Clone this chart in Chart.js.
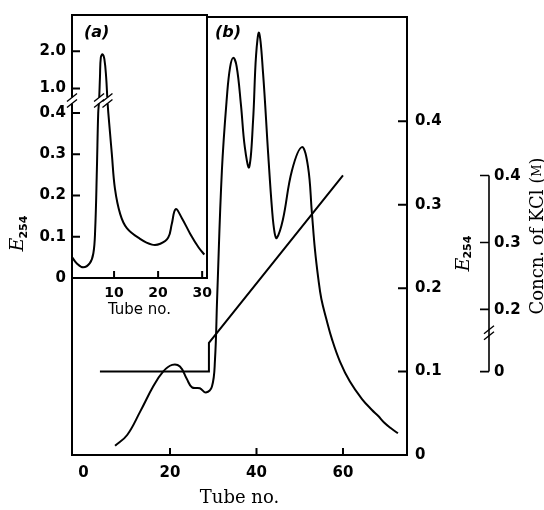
<!DOCTYPE html>
<html>
<head>
<meta charset="utf-8">
<style>
  html, body { margin: 0; padding: 0; background: #fff; }
  #wrap { position: relative; width: 544px; height: 510px; }
  #main, #inset { position: absolute; left: 0; top: 0; }
</style>
<script src="https://cdn.jsdelivr.net/npm/chart.js@4.4.1/dist/chart.umd.min.js"></script>
</head>
<body>
<div id="wrap">
  <canvas id="main" width="544" height="510"></canvas>
  <canvas id="inset" width="220" height="330"></canvas>
</div>
<script>
// (b) elution profile, E254 against tube no.
var tubeB = [7.3, 10.1, 13.1, 16.1, 18.4, 20.5, 22.3, 23.9, 25.1, 26.9, 28.3, 29.7, 30.4, 30.9, 32.0, 33.2,
  33.9, 34.6, 35.4, 36.4, 37.3, 38.3, 39.2, 39.9, 40.6, 41.5, 42.7, 43.6, 44.2, 44.7, 46.1, 48.2,
  50.5, 51.9, 52.8, 53.5, 54.3, 55.0, 56.1, 57.5, 59.3, 61.6, 64.4, 66.7, 68.1, 69.5, 71.1, 72.7];
var e254B = [0.011, 0.024, 0.052, 0.082, 0.100, 0.108, 0.106, 0.091, 0.081, 0.080, 0.075, 0.082, 0.114, 0.188, 0.341, 0.432,
  0.465, 0.476, 0.466, 0.420, 0.369, 0.345, 0.400, 0.479, 0.506, 0.459, 0.361, 0.294, 0.266, 0.260, 0.282, 0.341,
  0.369, 0.346, 0.291, 0.247, 0.211, 0.187, 0.164, 0.138, 0.112, 0.088, 0.067, 0.054, 0.047, 0.039, 0.032, 0.026];

// KCl gradient (M)
var tubeKCl = [3.8, 29, 29, 60];
var kcl = [0, 0, 0.15, 0.4];

// (a) inset profile
var tubeA = [0.5, 1.5, 3, 4.5, 5.3, 5.7, 6.1, 6.4, 6.6, 6.8, 7.0, 7.4, 7.8, 8.2, 8.5, 8.7, 9.1, 9.5,
  10.2, 11.4, 12.9, 15.9, 18.6, 20.5, 22.3, 23.1, 24.0, 25.4, 27.3, 29.2, 30.5];
var e254A = [0.05, 0.036, 0.026, 0.036, 0.06, 0.114, 0.264, 0.40, 0.71, 1.31, 1.84, 1.92, 1.79, 1.31, 0.71, 0.40, 0.35, 0.30,
  0.217, 0.155, 0.121, 0.095, 0.081, 0.083, 0.098, 0.131, 0.167, 0.145, 0.107, 0.074, 0.057];

// tick labels
var xTicksB = [0, 20, 40, 60];
var eTicksB = [0, 0.1, 0.2, 0.3, 0.4];
var kclTicks = [0, 0.2, 0.3, 0.4];
var xTicksA = [10, 20, 30];
var eTicksA = [0, 0.1, 0.2, 0.3, 0.4, 1.0, 2.0];

var BOLD = 'bold 15px "DejaVu Sans"';
Chart.defaults.color = '#000';
Chart.defaults.font.family = '"DejaVu Sans"';

// broken axes: piecewise-linear value mapping on top of the linear scale
function brokenScale(id, warp, unwarp) {
  class S extends Chart.LinearScale {
    getPixelForValue(v) { return v == null ? NaN : super.getPixelForValue(warp(v)); }
    getValueForPixel(p) { return unwarp(super.getValueForPixel(p)); }
  }
  S.id = id;
  S.defaults = Chart.LinearScale.defaults;
  Chart.register(S);
}
// inset E254: 0-0.4 normal, 0.4-1.0 squeezed, 1.0-2.0 compressed
brokenScale('brokenE', function (v) {
  if (v <= 0.4) return v;
  if (v <= 1.0) return 0.4 + (v - 0.4) / 0.6 * 0.0595;
  return 0.4595 + (v - 1.0) * 0.0905;
}, function (w) {
  if (w <= 0.4) return w;
  if (w <= 0.4595) return 0.4 + (w - 0.4) / 0.0595 * 0.6;
  return 1.0 + (w - 0.4595) / 0.0905;
});
// KCl: 0-0.15 squeezed below the break
brokenScale('brokenK', function (v) {
  return v >= 0.15 ? v : 0.107 + v * 0.043 / 0.15;
}, function (w) {
  return w >= 0.15 ? w : (w - 0.107) * 0.15 / 0.043;
});

function fmt(v) { return v === 0 ? '0' : v.toFixed(1); }

function slashes(ctx, x, y) {
  ctx.save();
  ctx.lineWidth = 1.4;
  ctx.beginPath();
  [-3, 3].forEach(function (d) {
    ctx.moveTo(x - 5, y + d + 4);
    ctx.lineTo(x + 5, y + d - 4);
  });
  ctx.stroke();
  ctx.restore();
}

function drawE254(ctx, cx, cy) {
  ctx.save();
  ctx.translate(cx, cy);
  ctx.rotate(-Math.PI / 2);
  ctx.fillStyle = '#000';
  ctx.font = 'italic 19px "DejaVu Serif"';
  var wE = ctx.measureText('E').width;
  ctx.font = 'bold 11px "DejaVu Sans"';
  var wS = ctx.measureText('254').width;
  var x0 = -(wE + wS) / 2;
  ctx.font = 'italic 19px "DejaVu Serif"';
  ctx.fillText('E', x0, 6);
  ctx.font = 'bold 11px "DejaVu Sans"';
  ctx.fillText('254', x0 + wE - 1, 10);
  ctx.restore();
}

function drawKclTitle(ctx, cx, cy) {
  var parts = [['Concn. of KCl (', '18px "DejaVu Serif"'], ['M', '12px "DejaVu Serif"'], [')', '18px "DejaVu Serif"']];
  ctx.save();
  ctx.translate(cx, cy);
  ctx.rotate(-Math.PI / 2);
  ctx.fillStyle = '#000';
  var total = 0;
  parts.forEach(function (p) { ctx.font = p[1]; total += ctx.measureText(p[0]).width; });
  var x = -total / 2;
  parts.forEach(function (p) {
    ctx.font = p[1];
    ctx.fillText(p[0], x, 6);
    x += ctx.measureText(p[0]).width;
  });
  ctx.restore();
}

var mainDecor = {
  id: 'mainDecor',
  afterDraw: function (chart) {
    var ctx = chart.ctx, a = chart.chartArea;
    var xs = chart.scales.x, ys = chart.scales.y, ks = chart.scales.yk;
    ctx.save();
    ctx.strokeStyle = '#000';
    ctx.lineWidth = 2;
    ctx.strokeRect(a.left, a.top, a.right - a.left, a.bottom - a.top);
    ctx.beginPath();
    xTicksB.forEach(function (v) {
      if (v <= 0) return;
      var px = xs.getPixelForValue(v);
      ctx.moveTo(px, a.bottom); ctx.lineTo(px, a.bottom - 7);
    });
    eTicksB.forEach(function (v) {
      if (v <= 0) return;
      var py = ys.getPixelForValue(v);
      ctx.moveTo(a.right, py); ctx.lineTo(a.right - 9, py);
    });
    ctx.stroke();

    // separate KCl axis
    var kx = a.right + 82;
    ctx.lineWidth = 1.6;
    ctx.beginPath();
    ctx.moveTo(kx, ks.getPixelForValue(0.4));
    ctx.lineTo(kx, ks.getPixelForValue(0));
    kclTicks.forEach(function (v) {
      var py = ks.getPixelForValue(v);
      ctx.moveTo(kx, py); ctx.lineTo(kx - 9, py);
    });
    ctx.stroke();
    slashes(ctx, kx, ks.getPixelForValue(0.165));
    ctx.fillStyle = '#000';
    ctx.font = BOLD;
    ctx.textAlign = 'left';
    ctx.textBaseline = 'middle';
    kclTicks.forEach(function (v) {
      ctx.fillText(fmt(v), kx + 5, ks.getPixelForValue(v) + 1);
    });

    drawE254(ctx, a.right + 51, (a.top + a.bottom) / 2 + 17);
    drawKclTitle(ctx, a.right + 125, (a.top + a.bottom) / 2);

    ctx.font = 'bold oblique 16px "DejaVu Sans"';
    ctx.textAlign = 'left';
    ctx.fillText('(b)', 215, 33);
    ctx.restore();
  }
};

var insetDecor = {
  id: 'insetDecor',
  beforeDraw: function (chart) {
    var ctx = chart.ctx, a = chart.chartArea;
    ctx.save();
    ctx.fillStyle = '#fff';
    ctx.fillRect(a.left, a.top, a.right - a.left, a.bottom - a.top);
    ctx.restore();
  },
  afterDraw: function (chart) {
    var ctx = chart.ctx, a = chart.chartArea;
    var xs = chart.scales.x, ys = chart.scales.y;
    ctx.save();
    ctx.strokeStyle = '#000';
    ctx.lineWidth = 2;
    ctx.strokeRect(a.left, a.top, a.right - a.left, a.bottom - a.top);
    ctx.beginPath();
    xTicksA.forEach(function (v) {
      var px = xs.getPixelForValue(v);
      ctx.moveTo(px, a.bottom); ctx.lineTo(px, a.bottom - 7);
    });
    eTicksA.forEach(function (v) {
      if (v <= 0) return;
      var py = ys.getPixelForValue(v);
      ctx.moveTo(a.left, py); ctx.lineTo(a.left + 8, py);
    });
    ctx.stroke();

    // breaks on the axis and on the peak
    var by = ys.getPixelForValue(0.71);
    ctx.fillStyle = '#fff';
    ctx.fillRect(a.left - 2, by - 3, 4, 6);
    slashes(ctx, a.left, by);
    ctx.fillRect(xs.getPixelForValue(6.6) - 2, by - 3, 4, 6);
    ctx.fillRect(xs.getPixelForValue(8.5) - 2, by - 3, 4, 6);
    slashes(ctx, xs.getPixelForValue(6.6), by);
    slashes(ctx, xs.getPixelForValue(8.5), by);

    drawE254(ctx, 17, 233);
    ctx.fillStyle = '#000';
    ctx.font = 'bold oblique 16px "DejaVu Sans"';
    ctx.textAlign = 'left';
    ctx.textBaseline = 'middle';
    ctx.fillText('(a)', 84, 33);
    ctx.restore();
  }
};

function pts(xs, ys) {
  return xs.map(function (x, i) { return { x: x, y: ys[i] }; });
}

new Chart(document.getElementById('main'), {
  type: 'line',
  data: {
    datasets: [{
      label: 'E254',
      data: pts(tubeB, e254B),
      yAxisID: 'y',
      borderColor: '#000',
      borderWidth: 2,
      pointRadius: 0,
      tension: 0.4,
      fill: false
    }, {
      label: 'KCl',
      data: pts(tubeKCl, kcl),
      yAxisID: 'yk',
      borderColor: '#000',
      borderWidth: 2,
      pointRadius: 0,
      tension: 0,
      fill: false
    }]
  },
  options: {
    responsive: false,
    animation: false,
    events: [],
    layout: { padding: { left: 72, top: 10, right: 0, bottom: 0 } },
    plugins: { legend: { display: false }, tooltip: { enabled: false } },
    scales: {
      x: {
        type: 'linear',
        position: 'bottom',
        min: -2.66,
        max: 74.8,
        afterFit: function (s) { s.height = 55; },
        afterBuildTicks: function (s) { s.ticks = xTicksB.map(function (v) { return { value: v }; }); },
        grid: { display: false, drawTicks: false },
        border: { display: false },
        ticks: { font: { weight: 'bold', size: 15 }, padding: 9, maxRotation: 0, autoSkip: false },
        title: { display: true, text: 'Tube no.', font: { family: '"DejaVu Serif"', size: 18 }, padding: { top: 0, bottom: 1 } }
      },
      y: {
        type: 'linear',
        position: 'right',
        min: 0,
        max: 0.525,
        afterFit: function (s) { s.width = 137; },
        afterBuildTicks: function (s) { s.ticks = eTicksB.map(function (v) { return { value: v }; }); },
        grid: { display: false, drawTicks: false },
        border: { display: false },
        ticks: { font: { weight: 'bold', size: 15 }, padding: 8, autoSkip: false, callback: fmt }
      },
      yk: {
        type: 'brokenK',
        position: 'right',
        display: false,
        min: -0.0176,
        max: 0.6368
      }
    }
  },
  plugins: [mainDecor]
});

new Chart(document.getElementById('inset'), {
  type: 'line',
  data: {
    datasets: [{
      label: 'E254',
      data: pts(tubeA, e254A),
      borderColor: '#000',
      borderWidth: 2,
      pointRadius: 0,
      tension: 0.4,
      fill: false
    }]
  },
  options: {
    responsive: false,
    animation: false,
    events: [],
    layout: { padding: { left: 0, top: 10, right: 13, bottom: 0 } },
    plugins: { legend: { display: false }, tooltip: { enabled: false } },
    scales: {
      x: {
        type: 'linear',
        min: 0.45,
        max: 31.1,
        afterFit: function (s) { s.height = 52; },
        afterBuildTicks: function (s) { s.ticks = xTicksA.map(function (v) { return { value: v }; }); },
        grid: { display: false, drawTicks: false },
        border: { display: false },
        ticks: { font: { weight: 'bold', size: 14 }, padding: 7, maxRotation: 0, autoSkip: false },
        title: { display: true, text: 'Tube no.', font: { size: 15 }, padding: { top: 0, bottom: 11 } }
      },
      y: {
        type: 'brokenE',
        position: 'left',
        min: 0,
        max: 0.638,
        afterFit: function (s) { s.width = 72; },
        afterBuildTicks: function (s) { s.ticks = eTicksA.map(function (v) { return { value: v }; }); },
        grid: { display: false, drawTicks: false },
        border: { display: false },
        ticks: { font: { weight: 'bold', size: 15 }, padding: 6, autoSkip: false, callback: fmt }
      }
    }
  },
  plugins: [insetDecor]
});
</script>
</body>
</html>
